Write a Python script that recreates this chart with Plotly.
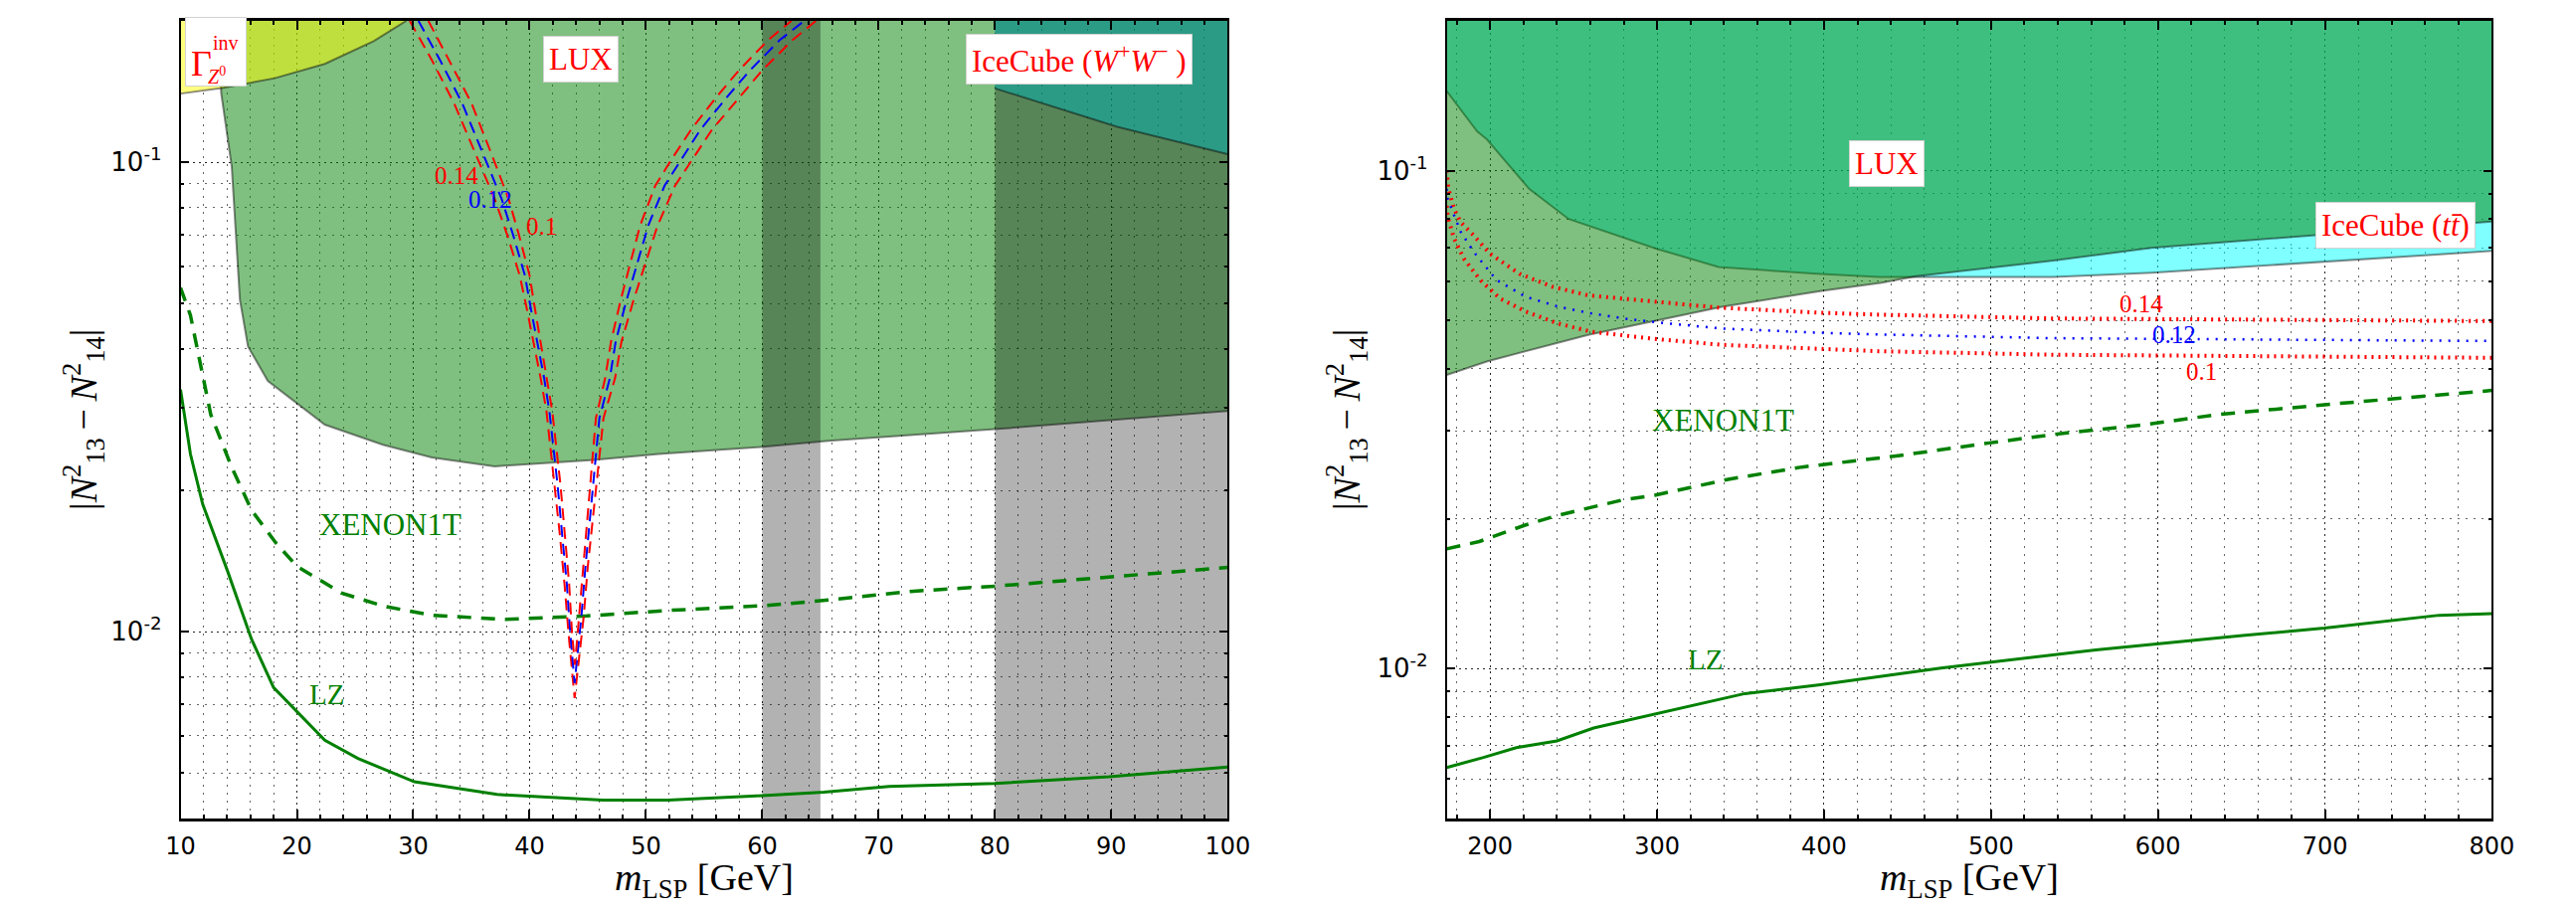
import math
import plotly.graph_objects as go

# ---------------- axis limits ----------------
LEFT_X = [10, 100]
LEFT_Y = [0.004, 0.2]
RIGHT_X = [174, 800]
RIGHT_Y = [0.005, 0.2]

# ---------------- left panel data (m_LSP 10-100 GeV) ----------------
lz_left_x = [10, 10.85, 11.9, 14.0, 16.1, 18.0, 22.4, 25.25, 30.1, 37.2, 46.3, 51.9, 59.5, 65.3, 70.9, 80.0, 89.8, 100]
lz_left_y = [0.0328, 0.0239, 0.0187, 0.01355, 0.00964, 0.0076, 0.00587, 0.00537, 0.00479, 0.0045, 0.00438,
             0.00438, 0.00447, 0.00455, 0.00468, 0.00475, 0.00491, 0.00515]

xe_left_x = [10, 10.85, 12.6, 14.4, 16.1, 18.2, 20.0, 23.8, 27.4, 31.6, 37.9, 44.9, 51.9, 60.4, 66.0, 73.0, 80.0, 89.9, 100]
xe_left_y = [0.054, 0.0472, 0.029, 0.0224, 0.01815, 0.01545, 0.01378, 0.0121, 0.01134, 0.01084, 0.01062, 0.0108,
             0.0111, 0.01137, 0.0117, 0.0122, 0.0125, 0.0131, 0.0137]

lux_left_x = [13.2, 13.5, 14.4, 15.1, 15.8, 17.5, 22.4, 27.4, 31.6, 37.0, 45.5, 51.1, 59.5, 65.7, 80.0, 100.0]
lux_left_y = [0.2, 0.14, 0.098, 0.051, 0.0405, 0.0342, 0.0276, 0.0250, 0.0235, 0.0225, 0.0232, 0.0239, 0.0247,
              0.0255, 0.027, 0.0295]

zinv_x = [10, 13.7, 18.1, 22.4, 26.6, 29.4]
zinv_y = [0.140, 0.144, 0.151, 0.162, 0.181, 0.2]

icww_x = [80, 90.5, 100]
icww_y = [0.1436, 0.119, 0.104]

band_z = [60, 65]
band_w = [80, 100]

om014_left_x = [29.7, 31.6, 33.5, 35.55, 37.0, 38.1, 39.15, 39.75, 40.4, 40.95, 41.45, 42.15, 42.6, 43.0, 43.35,
                43.87, 44.3, 44.65, 45.0, 45.45, 45.9, 46.35, 47.35, 47.9, 48.9, 50.1, 51.0, 52.5, 54.0, 55.7,
                58.1, 60.0, 62.6, 64.6]
om014_left_y = [0.2, 0.165, 0.1337, 0.1015, 0.0835, 0.0698, 0.0574, 0.0489, 0.0408, 0.0347, 0.0295, 0.0206,
                0.0161, 0.01265, 0.0099, 0.00722, 0.00886, 0.01076, 0.01374, 0.01754, 0.0224, 0.0285, 0.0347,
                0.0415, 0.0505, 0.0623, 0.0733, 0.0891, 0.1014, 0.1175, 0.138, 0.157, 0.182, 0.2]

om012_left_x = [30.45, 32.3, 34.2, 36.2, 37.6, 38.6, 39.6, 40.1, 40.7, 41.25, 41.7, 42.4, 42.8, 43.2, 43.5,
                43.87, 44.1, 44.45, 44.8, 45.2, 45.6, 46.0, 46.9, 47.4, 48.3, 49.4, 50.2, 51.6, 53.05, 54.7,
                57.0, 58.95, 61.5, 63.6]
om012_left_y = [0.2, 0.165, 0.1337, 0.1015, 0.0835, 0.0698, 0.0574, 0.0489, 0.0408, 0.0347, 0.0295, 0.0206,
                0.0161, 0.01265, 0.0099, 0.00777, 0.00886, 0.01076, 0.01374, 0.01754, 0.0224, 0.0285, 0.0347,
                0.0415, 0.0505, 0.0623, 0.0733, 0.0891, 0.1014, 0.1175, 0.138, 0.157, 0.182, 0.2]

om010_left_x = [31.3, 33.1, 35.0, 36.9, 38.2, 39.1, 40.0, 40.45, 41.0, 41.5, 41.95, 42.65, 43.0, 43.4, 43.65,
                43.9, 44.25, 44.6, 45.0, 45.35, 45.7, 46.5, 47.0, 47.8, 48.75, 49.5, 50.8, 52.2, 53.9, 56.1,
                58.0, 60.5, 62.5]
om010_left_y = [0.2, 0.165, 0.1337, 0.1015, 0.0835, 0.0698, 0.0574, 0.0489, 0.0408, 0.0347, 0.0295, 0.0206,
                0.0161, 0.01265, 0.0099, 0.0085, 0.01076, 0.01374, 0.01754, 0.0224, 0.0285, 0.0347, 0.0415,
                0.0505, 0.0623, 0.0733, 0.0891, 0.1014, 0.1175, 0.138, 0.157, 0.182, 0.2]

# ---------------- right panel data (m_LSP 174-800 GeV) ----------------
lz_right_x = [174, 196, 215.7, 240, 262, 298.6, 352.6, 396.6, 470, 562.7, 650.7, 699.8, 768.4, 800]
lz_right_y = [0.00633, 0.00663, 0.00694, 0.00716, 0.0076, 0.0081, 0.00891, 0.00927, 0.01003, 0.0109, 0.01166,
              0.01206, 0.0128, 0.0129]

xe_right_x = [174, 193.5, 220.5, 240, 279, 298.6, 342.6, 386.6, 421, 445.5, 499, 543, 592, 636, 709, 800]
xe_right_y = [0.0174, 0.0180, 0.0194, 0.0203, 0.0218, 0.0223, 0.0240, 0.0254, 0.0262, 0.0268, 0.0284, 0.0297,
              0.0309, 0.0324, 0.0341, 0.0362]

ictt_x = [174, 192.2, 198, 223.5, 247, 299.8, 336.9, 395.6, 432.8, 537.4, 596, 696.9, 800]
ictt_y = [0.1445, 0.120, 0.1157, 0.0919, 0.080, 0.0697, 0.0641, 0.0621, 0.0612, 0.0612, 0.0624, 0.0656, 0.069]

lux_right_x = [174, 198, 258.7, 297.8, 338.9, 397.6, 434.7, 455, 537.4, 596, 696.9, 800]
lux_right_y = [0.0389, 0.0414, 0.0468, 0.0498, 0.0533, 0.0573, 0.0596, 0.0614, 0.066, 0.070, 0.0744, 0.0791]

om014_right_x = [174, 175, 178.5, 182.4, 190.2, 200, 217.6, 237.2, 258.7, 278.2, 297.8, 336.9, 395.6, 432.8, 537.4, 800]
om014_right_y = [0.1, 0.092, 0.0838, 0.0788, 0.0741, 0.0681, 0.0621, 0.0585, 0.0562, 0.0554, 0.0544, 0.0531,
                 0.0519, 0.0514, 0.0505, 0.0499]

om012_right_x = [174, 174.6, 178.5, 182.4, 190.2, 203.9, 221.5, 241.1, 260.6, 280.2, 299.8, 338.9, 395.6, 432.8, 537.4, 800]
om012_right_y = [0.092, 0.0878, 0.0813, 0.0754, 0.0687, 0.0603, 0.0558, 0.0533, 0.0517, 0.0505, 0.0496, 0.0482,
                 0.0473, 0.0469, 0.0461, 0.0455]

om010_right_x = [174, 174.6, 178.5, 184.3, 194.1, 205.9, 221.5, 241.1, 260.6, 280.2, 299.8, 338.9, 395.6, 432.8, 537.4, 800]
om010_right_y = [0.085, 0.0807, 0.073, 0.0666, 0.0603, 0.0554, 0.0521, 0.0493, 0.0475, 0.0466, 0.0459, 0.0447,
                 0.0438, 0.0434, 0.0427, 0.0421]

# ---------------- styles ----------------
GREEN = "rgb(0,128,0)"
EDGE = "rgba(0,0,0,0.45)"
SERIF = "Liberation Serif"
SANS = "DejaVu Sans"
W, H = 2590, 916


def px_x(p):
    return p / W


def px_y(p):
    return 1 - p / H


fig = go.Figure()
L = ("x", "y")
R = ("x2", "y2")


def add(x, y, ax, **kw):
    fig.add_trace(go.Scatter(x=x, y=y, xaxis=ax[0], yaxis=ax[1], showlegend=False,
                             hoverinfo="skip", **kw))


def fill_above(cx, cy, top, ax, color):
    px = list(cx) + [cx[-1], cx[0]]
    py = list(cy) + [top, top]
    add(px, py, ax, mode="lines", fill="toself", fillcolor=color, line=dict(width=0))


def edge(cx, cy, ax):
    add(cx, cy, ax, mode="lines", line=dict(color=EDGE, width=2))


def band(edges, ybot, ytop, ax):
    add([edges[0], edges[0], edges[1], edges[1]], [ybot, ytop, ytop, ybot], ax,
        mode="lines", fill="toself", fillcolor="rgba(0,0,0,0.3)", line=dict(width=0))


# ---- left panel ----
fill_above(lux_left_x, lux_left_y, LEFT_Y[1], L, "rgba(0,128,0,0.5)")
edge(lux_left_x, lux_left_y, L)
fill_above(icww_x, icww_y, LEFT_Y[1], L, "rgba(0,255,255,0.5)")
edge(icww_x, icww_y, L)
fill_above(zinv_x, zinv_y, LEFT_Y[1], L, "rgba(255,255,0,0.5)")
edge(zinv_x, zinv_y, L)
band(band_z, LEFT_Y[0], LEFT_Y[1], L)
band(band_w, LEFT_Y[0], LEFT_Y[1], L)

add(lz_left_x, lz_left_y, L, mode="lines", line=dict(color=GREEN, width=3))
add(xe_left_x, xe_left_y, L, mode="lines", line=dict(color=GREEN, width=3.5, dash="14px,10px"))
add(om014_left_x, om014_left_y, L, mode="lines", line=dict(color="red", width=2, dash="12px,7px"))
add(om012_left_x, om012_left_y, L, mode="lines", line=dict(color="blue", width=2, dash="12px,7px"))
add(om010_left_x, om010_left_y, L, mode="lines", line=dict(color="red", width=2, dash="12px,7px"))

# ---- right panel ----
fill_above(ictt_x, ictt_y, RIGHT_Y[1], R, "rgba(0,255,255,0.5)")
edge(ictt_x, ictt_y, R)
fill_above(lux_right_x, lux_right_y, RIGHT_Y[1], R, "rgba(0,128,0,0.5)")
edge(lux_right_x, lux_right_y, R)

add(lz_right_x, lz_right_y, R, mode="lines", line=dict(color=GREEN, width=3))
add(xe_right_x, xe_right_y, R, mode="lines", line=dict(color=GREEN, width=3.5, dash="14px,10px"))
add(om014_right_x, om014_right_y, R, mode="lines", line=dict(color="red", width=4, dash="2px,5px"))
add(om012_right_x, om012_right_y, R, mode="lines", line=dict(color="blue", width=2.5, dash="2px,7px"))
add(om010_right_x, om010_right_y, R, mode="lines", line=dict(color="red", width=4, dash="2px,5px"))

# ---------------- annotations ----------------
ann = []


def label(ax, x, y, text, color, size, box=False, **kw):
    d = dict(xref=ax[0], yref=ax[1], x=x, y=math.log10(y), text=text, showarrow=False,
             font=dict(family=SERIF, size=size, color=color))
    if box:
        d.update(bgcolor="white", bordercolor="rgba(210,210,210,1)", borderwidth=1, borderpad=5)
    d.update(kw)
    ann.append(d)


# left panel labels
label(L, 44.4, 0.166, "LUX", "red", 31, box=True)
label(L, 87.2, 0.166, "IceCube (<i>W</i><sup>+</sup><i>W</i><sup>−</sup> )", "red", 31, box=True)
label(L, 13.0, 0.172, " ", "red", 30, box=True, width=50, height=58)
label(L, 11.8, 0.162, "Γ", "red", 36)
label(L, 13.9, 0.1795, "inv", "red", 20)
label(L, 13.1, 0.1530, "<i>Z</i><sup>0</sup>", "red", 20)
label(L, 33.7, 0.0939, "0.14", "red", 25)
label(L, 36.6, 0.0835, "0.12", "blue", 25)
label(L, 41.0, 0.0731, "0.1", "red", 25)
label(L, 28.0, 0.0169, "XENON1T", GREEN, 31)
label(L, 22.55, 0.00735, "LZ", GREEN, 29)

# right panel labels
label(R, 437.7, 0.1036, "LUX", "red", 31, box=True)
label(R, 742, 0.0776, "IceCube (<i>tt̄</i>)", "red", 31, box=True)
label(R, 590.3, 0.0541, "0.14", "red", 25)
label(R, 609.8, 0.0469, "0.12", "blue", 25)
label(R, 625.9, 0.0396, "0.1", "red", 25)
label(R, 339.7, 0.0316, "XENON1T", GREEN, 31)
label(R, 329, 0.01046, "LZ", GREEN, 29)

# axis titles
ytitle = "|<i>N</i><sup>2</sup><sub>13</sub>\u2009−\u2009<i>N</i><sup>2</sup><sub>14</sub>|"
xtitle = "<i>m</i><sub>LSP</sub> [GeV]"
for xc, yc, txt, ang in [(px_x(70), px_y(422), ytitle, -90), (px_x(1359), px_y(422), ytitle, -90),
                         (px_x(703), px_y(885), xtitle, 0), (px_x(1994), px_y(885), xtitle, 0)]:
    ann.append(dict(xref="paper", yref="paper", x=xc, y=yc, text=txt, textangle=ang, showarrow=False,
                    xanchor="center", yanchor="middle", font=dict(family=SERIF, size=38, color="black")))

# ---------------- axes ----------------
minor_y = [k * 10 ** e for e in (-3, -2, -1) for k in range(2, 10)]
MAJ_GRID = dict(showgrid=True, gridcolor="rgba(0,0,0,0.85)", griddash="2px,4px", gridwidth=1)
MIN_GRID = dict(showgrid=True, gridcolor="rgba(0,0,0,0.6)", griddash="2px,6px", gridwidth=1)


def xaxis(domain, rng, dtick, mdtick, anchor):
    return dict(domain=domain, range=rng, anchor=anchor, dtick=dtick, tick0=0,
                showline=True, linecolor="black", linewidth=2.5, mirror="allticks",
                ticks="inside", ticklen=9, tickwidth=1.5, tickcolor="black",
                zeroline=False, ticklabelstandoff=4,
                tickfont=dict(family=SANS, size=24, color="black"),
                minor=dict(dtick=mdtick, tick0=0, ticks="inside", ticklen=4, tickcolor="black", **MIN_GRID),
                **MAJ_GRID)


def yaxis(domain, rng, anchor):
    return dict(domain=domain, type="log", range=[math.log10(rng[0]), math.log10(rng[1])], anchor=anchor,
                tickmode="array", tickvals=[0.01, 0.1], ticktext=["10<sup>-2</sup>", "10<sup>-1</sup>"],
                showline=True, linecolor="black", linewidth=1.5, mirror="allticks",
                ticks="inside", ticklen=9, tickwidth=1.5, tickcolor="black",
                zeroline=False, ticklabelstandoff=12,
                tickfont=dict(family=SANS, size=26, color="black"),
                minor=dict(tickmode="array", tickvals=minor_y, ticks="inside", ticklen=4, tickcolor="black",
                           **MIN_GRID),
                **MAJ_GRID)


ydom = [px_y(823), px_y(21)]
fig.update_layout(
    width=W, height=H,
    margin=dict(l=0, r=0, t=0, b=0),
    paper_bgcolor="white", plot_bgcolor="white",
    showlegend=False,
    xaxis=xaxis([px_x(169), px_x(1237.5)], LEFT_X, 10, 2, "y"),
    yaxis=yaxis(ydom, LEFT_Y, "x"),
    xaxis2=xaxis([px_x(1461), px_x(2527.5)], RIGHT_X, 100, 20, "y2"),
    yaxis2=yaxis(ydom, RIGHT_Y, "x2"),
    annotations=ann,
)

fig.write_html("out.html", config={"displayModeBar": False},
               post_script="document.body.style.margin='0';document.body.style.padding='0';")
